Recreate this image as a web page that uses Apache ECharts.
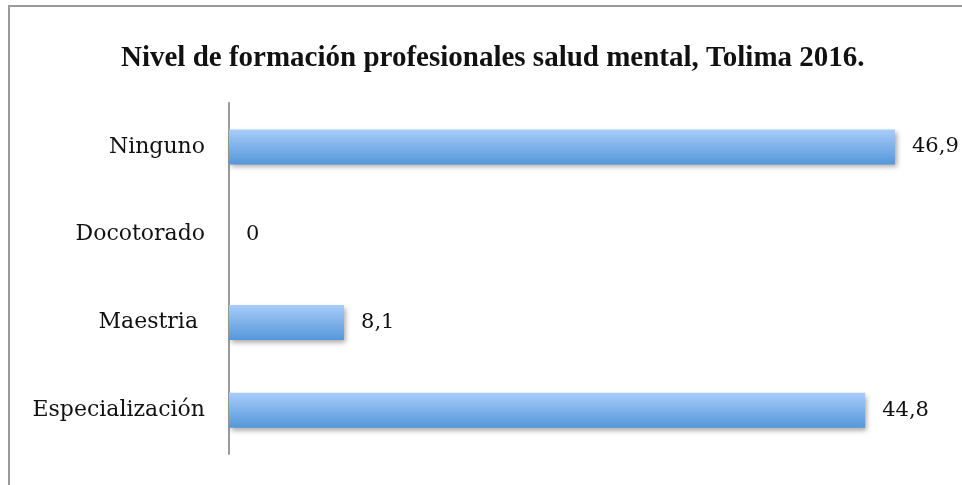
<!DOCTYPE html>
<html>
<head>
<meta charset="utf-8">
<script src="https://cdn.jsdelivr.net/npm/echarts@6/dist/echarts.min.js"></script>
<style>
  html, body { margin: 0; padding: 0; background: #fff; }
  #chart { width: 962px; height: 485px; }
</style>
</head>
<body>
<div id="chart"></div>
<script>
// categorias (de abajo hacia arriba)
var categories = ['Especialización', 'Maestria ', 'Docotorado', 'Ninguno'];
var values = [44.8, 8.1, 0, 46.9];
var titleText = 'Nivel de formación profesionales salud mental, Tolima 2016.';

var chart = echarts.init(document.getElementById('chart'));

chart.setOption({
  backgroundColor: '#fff',
  animation: false,
  title: {
    text: titleText,
    left: 121,
    top: 44,
    padding: 0,
    textStyle: {
      fontFamily: 'Liberation Serif',
      fontWeight: 'bold',
      fontSize: 29,
      color: '#111'
    }
  },
  // marco del grafico
  graphic: [{
    type: 'rect',
    shape: { x: 9, y: 6, width: 1000, height: 1000 },
    style: { fill: 'none', stroke: '#9a9a9a', lineWidth: 2 }
  }],
  grid: {
    left: 229,
    right: 23,
    top: 103,
    bottom: 31
  },
  xAxis: {
    type: 'value',
    min: 0,
    max: 50,
    show: false
  },
  yAxis: {
    type: 'category',
    data: categories,
    axisLine: { show: true, lineStyle: { color: '#9a9a9a', width: 2 } },
    axisTick: { show: false },
    axisLabel: {
      margin: 24,
      fontFamily: 'DejaVu Serif',
      fontSize: 22,
      color: '#111'
    }
  },
  series: [{
    type: 'bar',
    data: values,
    barWidth: 35,
    itemStyle: {
      color: new echarts.graphic.LinearGradient(0, 0, 0, 1, [
        { offset: 0, color: '#a8cdfa' },
        { offset: 1, color: '#5597da' }
      ]),
      shadowColor: 'rgba(0,0,0,0.35)',
      shadowBlur: 5,
      shadowOffsetX: 2,
      shadowOffsetY: 3
    },
    label: {
      show: true,
      position: 'right',
      distance: 17,
      fontFamily: 'DejaVu Serif',
      fontSize: 21,
      color: '#111',
      formatter: function (p) {
        return String(p.value).replace('.', ',');
      }
    }
  }]
});
</script>
</body>
</html>
